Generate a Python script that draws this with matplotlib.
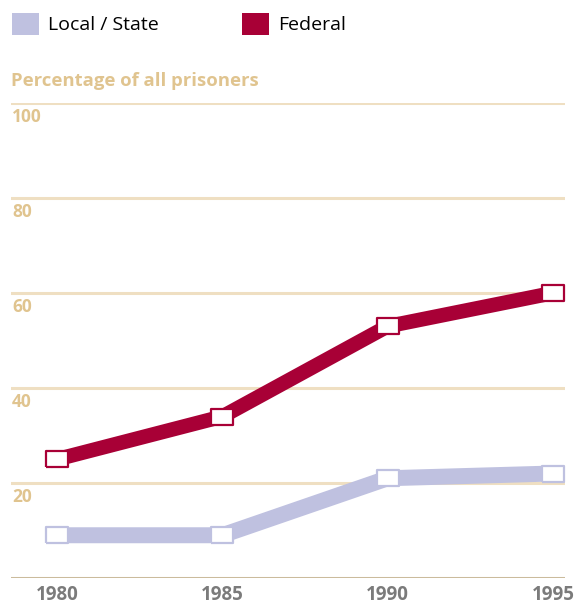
import matplotlib.pyplot as plt
from matplotlib.patches import Patch
from matplotlib.transforms import blended_transform_factory

plt.rcParams['font.family'] = ['Open Sans', 'DejaVu Sans']

years = [1980, 1985, 1990, 1995]
local_state = [9, 9, 21, 22]
federal = [25, 34, 53, 60]
yticks = [20, 40, 60, 80, 100]
series_names = ['Local / State', 'Federal']

local_color = '#bfc1e0'
federal_color = '#a80036'
grid_color = '#efdfc2'
tan = '#e0c48f'
base_color = '#cbbb9c'
xlab_color = '#7b7b7b'

W, H = 576, 606
fig = plt.figure(figsize=(W / 100, H / 100), dpi=100)
ax = fig.add_axes([11 / W, 28 / H, (565 - 11) / W, (578 - 103) / H])
ax.set_xlim(1980 - 46 / 33, 1995 + 12 / 33)
ax.set_ylim(0, 100)

for v in yticks:
    ax.axhline(v, color=grid_color, lw=2.2, zorder=1)
ax.axhline(0, color=base_color, lw=2.2, zorder=1)

rect = [(-1, -0.72), (1, -0.72), (1, 0.72), (-1, 0.72), (-1, -0.72)]
ax.plot(years, local_state, color=local_color, lw=11.5, marker=rect, ms=15.5,
        mfc='white', mec=local_color, mew=1.6, solid_joinstyle='miter',
        zorder=3, clip_on=False)
ax.plot(years, federal, color=federal_color, lw=10.5, marker=rect, ms=15.5,
        mfc='white', mec=federal_color, mew=1.6, solid_joinstyle='miter',
        zorder=4, clip_on=False)

tr = blended_transform_factory(ax.transAxes, ax.transData)
for v in yticks:
    ax.text(0.002, v - 1.0, str(v), transform=tr, ha='left', va='top',
            fontsize=12.5, fontweight='bold', color=tan)

for s in ax.spines.values():
    s.set_visible(False)
ax.set_yticks([])
ax.set_xticks(years)
ax.set_xticklabels([str(y) for y in years], fontsize=13.5, fontweight='bold',
                   color=xlab_color)
ax.tick_params(axis='x', length=0, pad=5)

fig.text(11 / W, 1 - 81 / H, 'Percentage of all prisoners', ha='left', va='center',
         fontsize=13.3, fontweight='bold', color=tan)

handles = [Patch(facecolor=local_color, edgecolor='none'),
           Patch(facecolor=federal_color, edgecolor='none')]
fig.legend(handles, series_names, loc='upper left', bbox_to_anchor=(4 / W, 1 - 5 / H),
           ncol=2, frameon=False, fontsize=14, handlelength=1.4, handleheight=1.4,
           handletextpad=0.45, columnspacing=4.3, borderaxespad=0)

fig.savefig('out.png', dpi=100)
